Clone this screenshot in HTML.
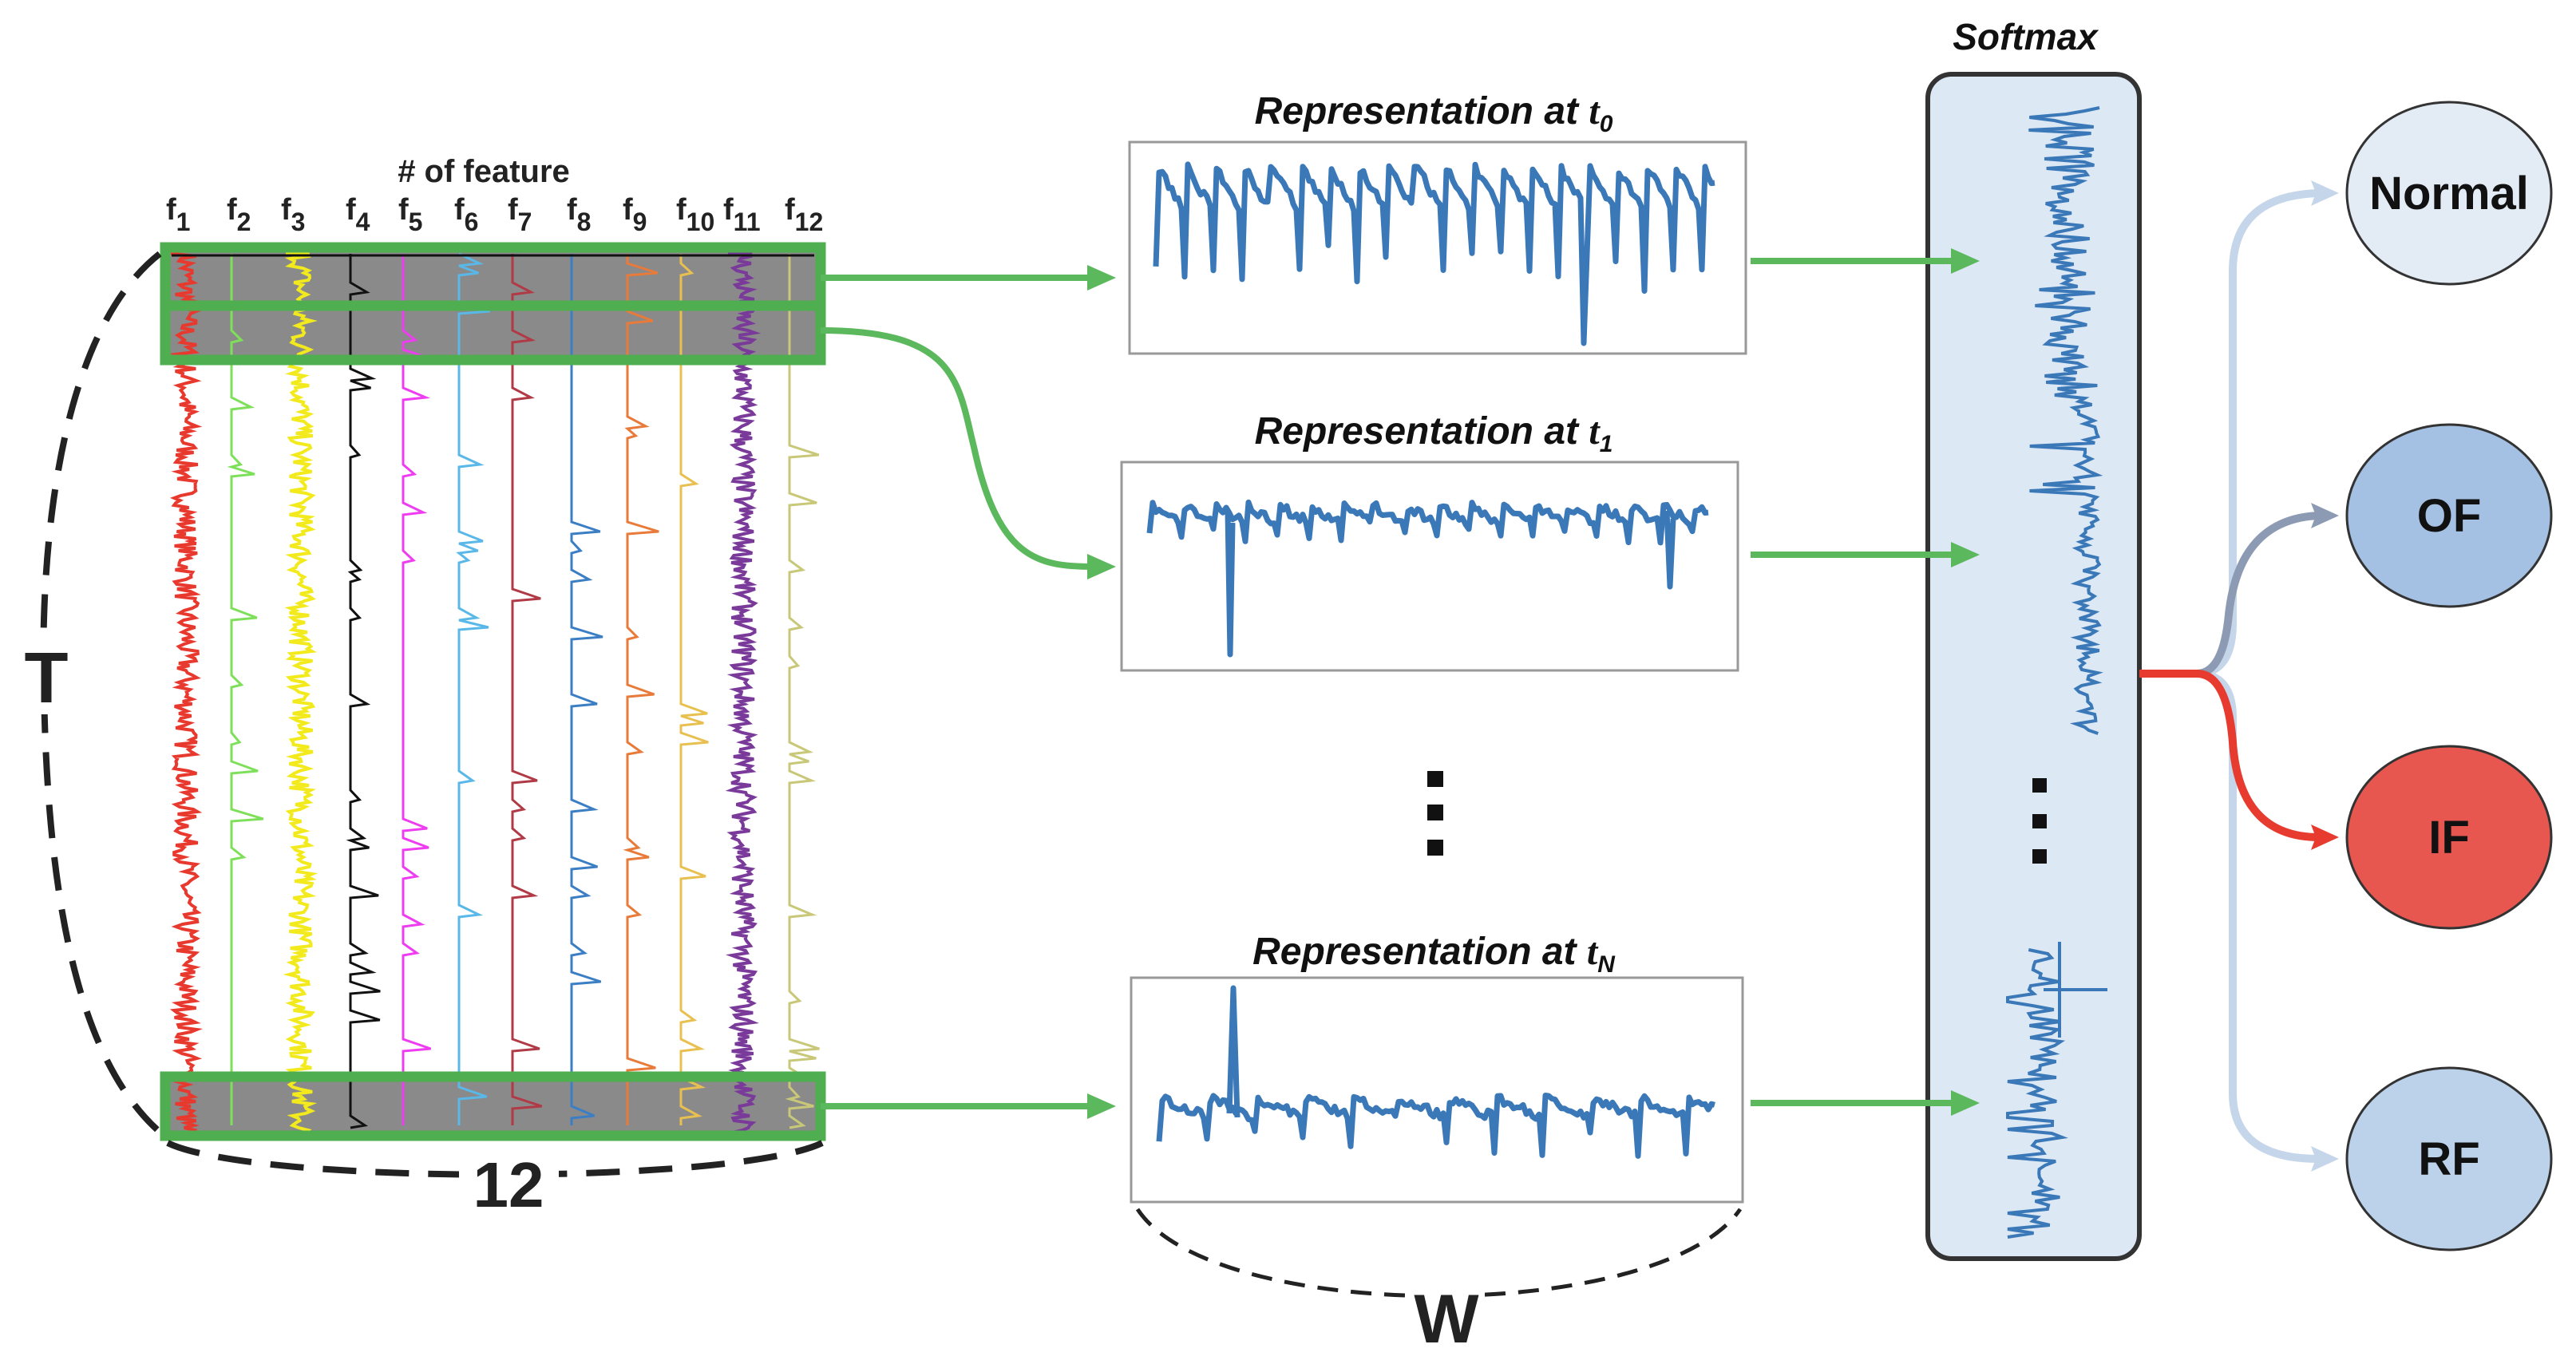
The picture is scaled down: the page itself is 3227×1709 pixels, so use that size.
<!DOCTYPE html>
<html><head><meta charset="utf-8"><style>
html,body{margin:0;padding:0;background:#fff;}
svg{display:block;}
text{font-family:"Liberation Sans",sans-serif;}
</style></head><body>
<svg id="s" width="3227" height="1709" viewBox="0 0 3227 1709" xmlns="http://www.w3.org/2000/svg">
<rect width="3227" height="1709" fill="#fff"/>
<rect x="207" y="310" width="821" height="1113" fill="#fff"/>
<rect x="207" y="310" width="821" height="141" fill="#8a8a8a"/>
<rect x="207" y="1349" width="821" height="74" fill="#8a8a8a"/>
<g id="cols"></g>
<line x1="215" y1="320" x2="1020" y2="320" stroke="#111" stroke-width="3"/>
<g fill="none" stroke="#4fae4f" stroke-width="13">
<rect x="207" y="310" width="821" height="73"/>
<rect x="207" y="383" width="821" height="68"/>
<rect x="207" y="1349" width="821" height="74"/>
</g>
<text x="606" y="228" font-size="40" font-weight="bold" text-anchor="middle" fill="#222"># of feature</text>
<g id="flab" font-size="38" font-weight="bold" fill="#222"></g>
<path d="M200,318 C70,420 50,700 55,870 C60,1100 90,1330 208,1425" fill="none" stroke="#222" stroke-width="8" stroke-dasharray="42,24"/>
<path d="M210,1432 C320,1485 920,1485 1030,1432" fill="none" stroke="#222" stroke-width="8" stroke-dasharray="42,24"/>
<rect x="20" y="800" width="80" height="95" fill="#fff"/>
<rect x="575" y="1440" width="125" height="85" fill="#fff"/>
<text x="58" y="880" font-size="90" font-weight="bold" text-anchor="middle" fill="#222">T</text>
<text x="637" y="1512" font-size="80" font-weight="bold" text-anchor="middle" fill="#222">12</text>
<rect x="1415" y="178" width="772" height="265" fill="#fff" stroke="#999" stroke-width="3"/>
<rect x="1405" y="579" width="772" height="261" fill="#fff" stroke="#999" stroke-width="3"/>
<rect x="1417" y="1225" width="766" height="281" fill="#fff" stroke="#999" stroke-width="3"/>
<g id="plots" fill="none" stroke="#3a78b8" stroke-width="7" stroke-linejoin="round"></g>
<g font-size="48" font-weight="bold" font-style="italic" fill="#111">
<text x="1796" y="155" text-anchor="middle">Representation at <tspan font-family="Liberation Serif">t</tspan><tspan font-size="30" dy="10">0</tspan></text>
<text x="1796" y="556" text-anchor="middle">Representation at <tspan font-family="Liberation Serif">t</tspan><tspan font-size="30" dy="10">1</tspan></text>
<text x="1796" y="1208" text-anchor="middle">Representation at <tspan font-family="Liberation Serif">t</tspan><tspan font-size="30" dy="10">N</tspan></text>
</g>
<g fill="#111"><rect x="1788" y="966" width="20" height="20"/><rect x="1788" y="1008" width="20" height="20"/><rect x="1788" y="1052" width="20" height="20"/></g>
<path d="M1425,1515 C1520,1660 2080,1660 2180,1515" fill="none" stroke="#222" stroke-width="5" stroke-dasharray="26,16"/>
<rect x="1765" y="1610" width="95" height="80" fill="#fff"/>
<text x="1812" y="1682" font-size="86" font-weight="bold" text-anchor="middle" fill="#222">W</text>
<!-- softmax -->
<rect x="2415" y="93" width="265" height="1484" rx="30" fill="#dde8f5" stroke="#333" stroke-width="6"/>
<text x="2537" y="62" font-size="46" font-weight="bold" font-style="italic" text-anchor="middle" fill="#111">Softmax</text>
<g id="soft" fill="none" stroke="#3a78b8" stroke-width="4"></g>
<g fill="#111"><rect x="2546" y="975" width="18" height="18"/><rect x="2546" y="1020" width="18" height="18"/><rect x="2546" y="1064" width="18" height="18"/></g>
<!-- green arrows -->
<g fill="none" stroke="#5cb85c" stroke-width="8">
<line x1="1028" y1="348" x2="1370" y2="348"/>
<path d="M1028,414 C1200,414 1200,480 1220,560 C1250,700 1300,710 1370,710"/>
<line x1="1028" y1="1386" x2="1370" y2="1386"/>
<line x1="2193" y1="327" x2="2455" y2="327"/>
<line x1="2193" y1="695" x2="2455" y2="695"/>
<line x1="2193" y1="1382" x2="2455" y2="1382"/>
</g>
<g fill="#5cb85c">
<polygon points="1398,348 1362,332 1362,364"/>
<polygon points="1398,710 1362,694 1362,726"/>
<polygon points="1398,1386 1362,1370 1362,1402"/>
<polygon points="2480,327 2444,311 2444,343"/>
<polygon points="2480,695 2444,679 2444,711"/>
<polygon points="2480,1382 2444,1366 2444,1398"/>
</g>
<g fill="none" stroke-width="10">
<path d="M2752,844 Q2797,844 2797,780 L2797,340 Q2797,245 2905,242" stroke="#c5d6ea"/>
<path d="M2752,844 Q2797,844 2797,900 L2797,1370 Q2797,1452 2905,1452" stroke="#c5d6ea"/>
<path d="M2752,844 Q2785,844 2792,770 Q2805,650 2905,646" stroke="#8c9bb3"/>
<path d="M2680,844 L2752,844 Q2790,844 2797,930 Q2805,1049 2905,1049" stroke="#e63b2e"/>
</g>
<polygon points="2930,242 2895,226 2901,242 2895,258" fill="#c5d6ea"/>
<polygon points="2930,1452 2895,1436 2901,1452 2895,1468" fill="#c5d6ea"/>
<polygon points="2930,646 2895,630 2901,646 2895,662" fill="#8c9bb3"/>
<polygon points="2930,1049 2895,1033 2901,1049 2895,1065" fill="#e63b2e"/>
<g stroke="#333" stroke-width="3">
<ellipse cx="3068" cy="242" rx="128" ry="114" fill="#e3ebf5"/>
<ellipse cx="3068" cy="646" rx="128" ry="114" fill="#a4c0e2"/>
<ellipse cx="3068" cy="1049" rx="128" ry="114" fill="#e8574f"/>
<ellipse cx="3068" cy="1452" rx="128" ry="114" fill="#bcd2ea"/>
</g>
<g font-size="58" font-weight="bold" text-anchor="middle" fill="#111">
<text x="3068" y="262">Normal</text>
<text x="3068" y="666">OF</text>
<text x="3068" y="1069">IF</text>
<text x="3068" y="1472">RF</text>
</g>
</svg>
<script>
var seed=7;function r(){seed=(seed*16807)%2147483647;return seed/2147483647;}
var NS="http://www.w3.org/2000/svg";
function P(g,d,attrs){var p=document.createElementNS(NS,"path");p.setAttribute("d",d);if(attrs)for(var k in attrs)p.setAttribute(k,attrs[k]);document.getElementById(g).appendChild(p);}
var xs=[214,290,358,439,505,575,642,716,786,853,912,989];
var cols=["#e8392f","#7ee05a","#f2ea1c","#111","#ee3cf0","#5ab8e8","#b03a46","#3c7ec4","#e87a3a","#e8c050","#7a3a9a","#c8c878"];
var lab=document.getElementById("flab");
for(var i=0;i<12;i++){
 var t=document.createElementNS(NS,"text");t.setAttribute("x",xs[i]-6);t.setAttribute("y",275);
 t.innerHTML="f<tspan font-size='32' dy='14'>"+(i+1)+"</tspan>";lab.appendChild(t);
 var dense=(i==0||i==2||i==10);var d="M"+xs[i]+",318";
 if(dense){for(var y=318;y<1420;y+=3){d+=" L"+(xs[i]+4+r()*30)+","+y;}
  P("cols",d,{stroke:cols[i],"stroke-width":4,fill:"none"});}
 else{for(var y=318;y<1420;y+=12){var x=xs[i];if(r()<0.12)d+=" L"+(x+10+r()*30)+","+y+" L"+x+","+(y+3);else d+=" L"+x+","+y;}
  P("cols",d,{stroke:cols[i],"stroke-width":3,fill:"none"});}
}
function plot(x0,x1,base,amp,period,dip,bigAt,big){var d="",n=0;for(var x=x0;x<=x1;x+=4){var ph=((x-x0)%period)/period;var y=base-amp*(1-ph)+ (r()-0.5)*12;
 if(ph<0.04&&r()<0.9)y=base+dip*(0.3+r()*0.7);if(bigAt&&Math.abs(x-bigAt)<3)y=big;d+=(n++?" L":"M")+x+","+y.toFixed(1);}P("plots",d);}
plot(1448,2150,265,60,36,100,1983,430);
seed=11;plot(1440,2142,655,22,40,25,0,0);
P("plots","M1538,640 L1541,820 L1544,655 M2088,640 L2092,735 L2096,650");
seed=19;plot(1452,2150,1400,25,60,55,0,0);
P("plots","M1540,1395 L1545,1238 L1550,1400");
seed=3;
var d="";for(var y=135;y<920;y+=4){var w=(y<500)?70:30;var x=2630-r()*w;if(r()<0.12&&y<650)x=2540+r()*60;d+=(d?" L":"M")+x.toFixed(1)+","+y;}P("soft",d);
d="";for(var y=1190;y<1555;y+=5){var x=2540+r()*45;if(r()<0.15)x=2515;d+=(d?" L":"M")+x.toFixed(1)+","+y;}P("soft",d);
P("soft","M2580,1180 L2580,1300 M2560,1240 L2640,1240");
</script>
</body></html>
